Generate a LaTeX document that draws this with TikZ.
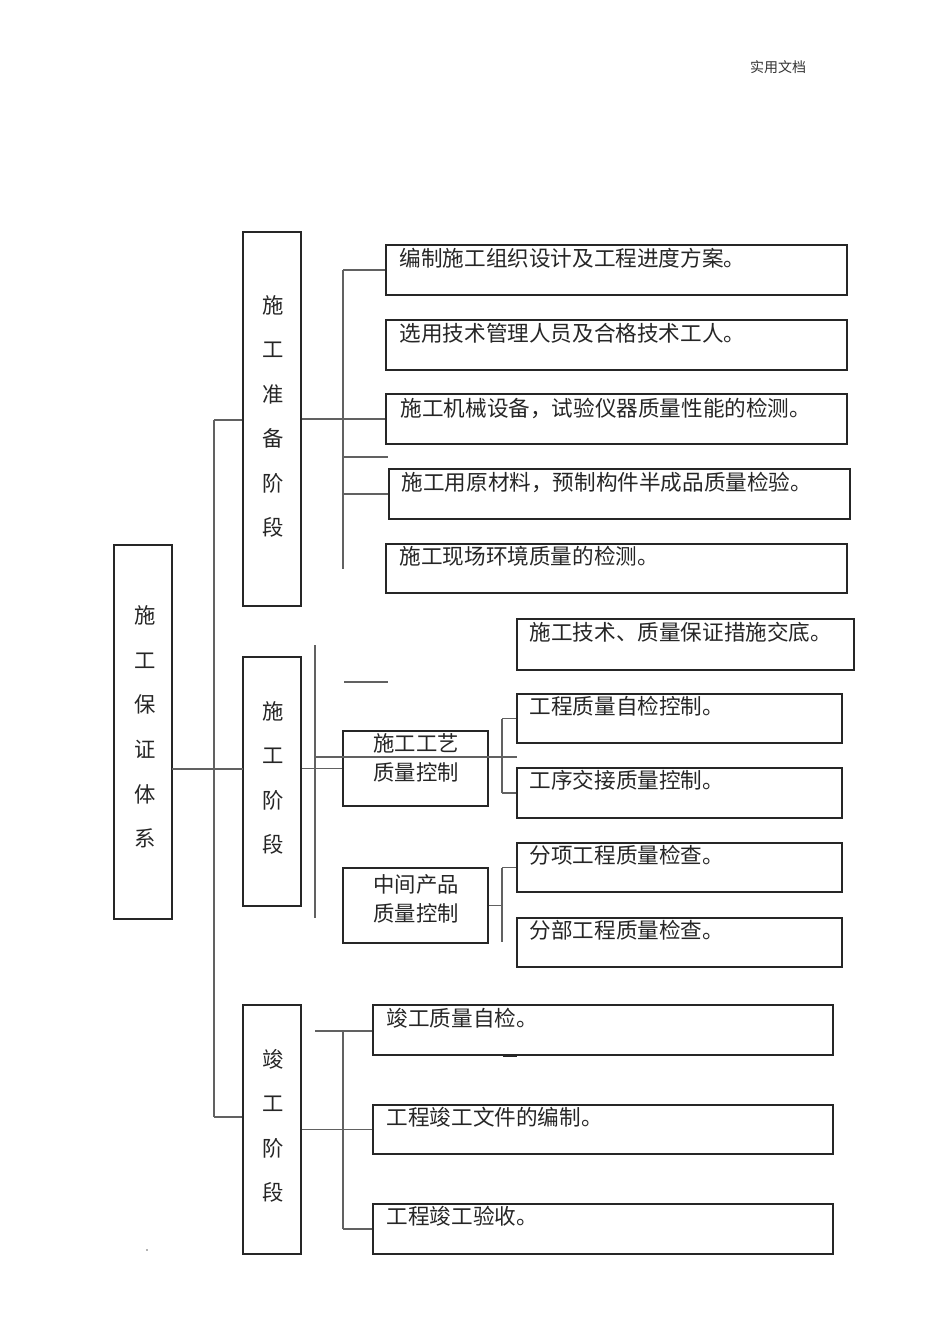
\documentclass[tikz,border=0pt]{standalone}
\usepackage{fontspec}
\newfontfamily\cjk{Noto Sans CJK SC}
\usetikzlibrary{fit}
\begin{document}
\begin{tikzpicture}[x=0.75pt,y=-0.75pt,
  box/.style={draw=black!85,line width=0.9pt,inner sep=0pt,fill=none},
  conn/.style={draw=black!62,line width=1.05pt},
  txt/.style={font=\cjk\fontsize{16.2}{19}\selectfont,inner sep=0pt,text=black!85,anchor=west},
  vtxt/.style={font=\cjk\fontsize{16}{33.4}\selectfont,align=center,inner sep=0pt,text=black!85},
  ptxt/.style={font=\cjk\fontsize{16}{21.6}\selectfont,align=center,inner sep=0pt,text=black!85}]
\useasboundingbox[fill=white] (0,0) rectangle (950,1344);

% header
\node[font=\cjk\fontsize{10.5}{12}\selectfont,text=black!80,inner sep=0pt] (hdr) at (778,67) {实用文档};

% main and stage boxes
\node[box,fit={(114,545) (172,919)}] (main) {};
\node[vtxt] (maint) at (145,727) {施\\工\\保\\证\\体\\系};
\node[box,fit={(243,232) (301,606)}] (s1) {};
\node[vtxt] (s1t) at (273,416.5) {施\\工\\准\\备\\阶\\段};
\node[box,fit={(243,657) (301,906)}] (s2) {};
\node[vtxt] (s2t) at (273,778) {施\\工\\阶\\段};
\node[box,fit={(243,1005) (301,1254)}] (s3) {};
\node[vtxt] (s3t) at (273,1126) {竣\\工\\阶\\段};

% preparation stage items
\node[box,fit={(386,245) (847,295)}] (a1) {};
\node[box,fit={(386,320) (847,370)}] (a2) {};
\node[box,fit={(386,394) (847,444)}] (a3) {};
\node[box,fit={(389,469) (850,519)}] (a4) {};
\node[box,fit={(386,544) (847,593)}] (a5) {};
\node[txt] (a1t) at ([shift={(14,14)}]a1.north west) {编制施工组织设计及工程进度方案。};
\node[txt] (a2t) at ([shift={(14,14)}]a2.north west) {选用技术管理人员及合格技术工人。};
\node[txt] (a3t) at ([shift={(15,15)}]a3.north west) {施工机械设备，试验仪器质量性能的检测。};
\node[txt] (a4t) at ([shift={(13,14)}]a4.north west) {施工用原材料，预制构件半成品质量检验。};
\node[txt] (a5t) at ([shift={(14,13)}]a5.north west) {施工现场环境质量的检测。};

% construction stage items
\node[box,fit={(343,731) (488,806)}] (p1) {};
\node[ptxt] (p1t) at (416,757.5) {施工工艺\\质量控制};
\node[box,fit={(343,868) (488,943)}] (p2) {};
\node[ptxt] (p2t) at (416,899) {中间产品\\质量控制};
\node[box,fit={(517,619) (854,670)}] (c1) {};
\node[box,fit={(517,694) (842,743)}] (c2) {};
\node[box,fit={(517,768) (842,818)}] (c3) {};
\node[box,fit={(517,843) (842,892)}] (c4) {};
\node[box,fit={(517,918) (842,967)}] (c5) {};
\node[txt] (c1t) at ([shift={(13,14)}]c1.north west) {施工技术、质量保证措施交底。};
\node[txt] (c2t) at ([shift={(13,13)}]c2.north west) {工程质量自检控制。};
\node[txt] (c3t) at ([shift={(13,13)}]c3.north west) {工序交接质量控制。};
\node[txt] (c4t) at ([shift={(13,13)}]c4.north west) {分项工程质量检查。};
\node[txt] (c5t) at ([shift={(13,13)}]c5.north west) {分部工程质量检查。};

% completion stage items
\node[box,fit={(373,1005) (833,1055)}] (d1) {};
\node[box,fit={(373,1105) (833,1154)}] (d2) {};
\node[box,fit={(373,1204) (833,1254)}] (d3) {};
\node[txt] (d1t) at ([shift={(14,14)}]d1.north west) {竣工质量自检。};
\node[txt] (d2t) at ([shift={(14,13)}]d2.north west) {工程竣工文件的编制。};
\node[txt] (d3t) at ([shift={(14,13)}]d3.north west) {工程竣工验收。};

% coordinates
\coordinate (tr1) at (214,420);
\coordinate (tr3) at (214,1117);
\coordinate (m2a) at (172,769);
\coordinate (m2b) at (243,769);
\coordinate (v1a) at (343,270);
\coordinate (v1b) at (343,569);
\coordinate (stub1a) at (343,457);
\coordinate (stub1b) at (388,457);
\coordinate (v2a) at (315,645);
\coordinate (v2b) at (315,918);
\coordinate (stub2a) at (344,682);
\coordinate (stub2b) at (388,682);
\coordinate (h2a) at (315,757);
\coordinate (h2b) at (517,757);
\coordinate (bp1a) at (502,718.5);
\coordinate (bp1b) at (502,793);
\coordinate (bp2a) at (502,867.5);
\coordinate (bp2b) at (502,942);
\coordinate (v3a) at (343,1030);
\coordinate (v3b) at (343,1229);
\coordinate (h3a) at (315,1031);
\coordinate (mk1) at (503,1056);
\coordinate (mk2) at (517,1056);
\coordinate (dot) at (147,1250);

% trunk
\draw[conn] (tr1) -- (tr3);
\draw[conn] (tr1) -- (tr1 -| s1.west);
\draw[conn] (tr3) -- (tr3 -| s3.west);
\draw[conn] (m2a) -- (m2b);

% preparation branches
\draw[conn] (s1.east |- a3.west) -- (a3.west);
\draw[conn] (v1a) -- (v1b);
\draw[conn] (v1a) -- (v1a -| a1.west);
\draw[conn] (stub1a) -- (stub1b);
\draw[conn] (v1a |- a4.west) -- (a4.west);

% construction branches
\draw[conn] (s2.east |- p1.west) -- (p1.west);
\draw[conn] (v2a) -- (v2b);
\draw[conn] (stub2a) -- (stub2b);
\draw[conn] (h2a) -- (h2b);
\draw[conn] (bp1a) -- (bp1b);
\draw[conn] (bp1a) -- (bp1a -| c2.west);
\draw[conn] (bp1b) -- (bp1b -| c3.west);
\draw[conn] (p2.east) -- (p2.east -| bp2a);
\draw[conn] (bp2a) -- (bp2b);
\draw[conn] (bp2a) -- (bp2a -| c4.west);

% completion branches
\draw[conn] (h3a) -- (h3a -| d1.west);
\draw[conn] (v3a) -- (v3b);
\draw[conn] (s3.east |- d2.west) -- (d2.west);
\draw[conn] (v3b) -- (v3b -| d3.west);
\draw[draw=black!85,line width=1.6pt] (mk1) -- (mk2);
\fill[black!60] (dot) circle (0.8);
\end{tikzpicture}
\end{document}
